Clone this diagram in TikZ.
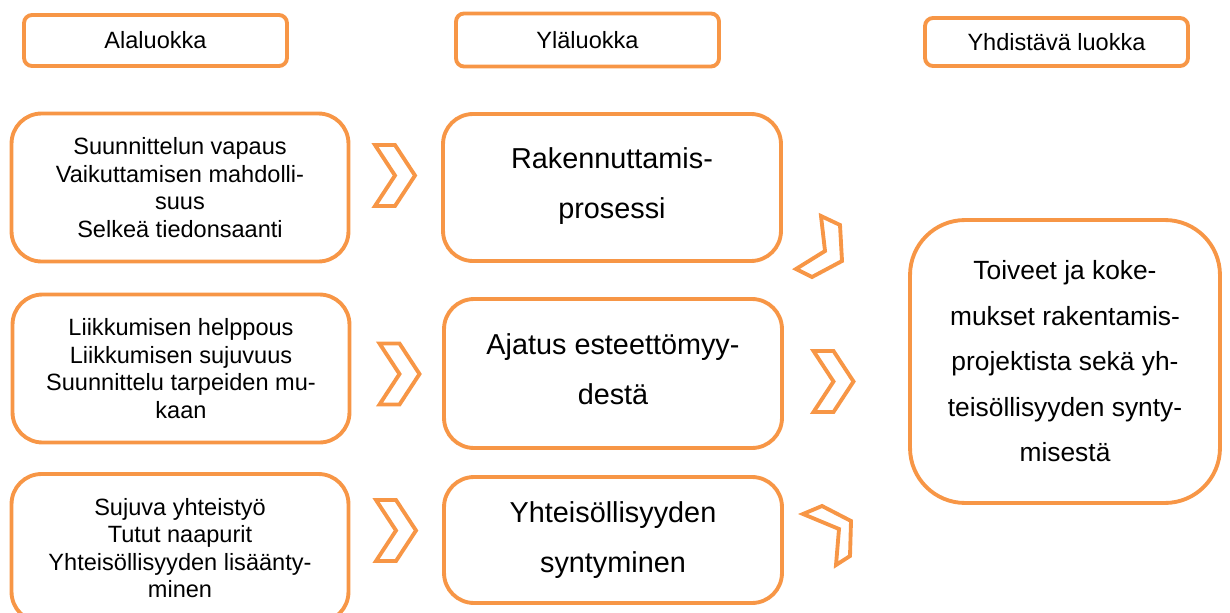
\documentclass[tikz,border=0pt]{standalone}
\usepackage{fontspec}
\setmainfont{Liberation Sans}
\definecolor{ora}{HTML}{F79646}

\begin{document}
\begin{tikzpicture}[x=0.02cm, y=-0.02cm,
        hdr/.style={draw=ora, line width=2.2pt, rounded corners=0.16cm,
            minimum width=5.26cm, minimum height=1.02cm, inner sep=0pt,
            font=\fontsize{13.4}{15.3}\selectfont},
        lbox/.style={draw=ora, line width=2.2pt, rounded corners=0.6cm,
            minimum width=6.74cm, minimum height=2.96cm, inner sep=0pt, align=center,
            font=\fontsize{13.4}{15.6}\selectfont},
        mbox/.style={draw=ora, line width=2.2pt, rounded corners=0.6cm,
            minimum width=6.76cm, inner sep=0pt, align=center,
            font=\fontsize{16.4}{28.4}\selectfont},
        chev/.style={draw=ora, line width=2.2pt, line join=miter}]
    \useasboundingbox (0,0) rectangle (1230,612);

    % otsikot
    \node[hdr] (ala) at (155.5,40.5) {Alaluokka};
    \node[hdr, minimum height=1.06cm] (yla) at (587.5,40) {Yläluokka};
    \node[hdr, minimum height=0.96cm] (yhd) at (1056.5,42) {Yhdistävä luokka};

    % alaluokat
    \node[lbox] (ala1) at (180,187.5) {Suunnittelun vapaus\\Vaikuttamisen mahdolli-\\suus\\Selkeä tiedonsaanti};
    \node[lbox] (ala2) at (181,368.5) {Liikkumisen helppous\\Liikkumisen sujuvuus\\Suunnittelu tarpeiden mu-\\kaan};
    \node[lbox] (ala3) at (180,548) {Sujuva yhteistyö\\Tutut naapurit\\Yhteisöllisyyden lisäänty-\\minen};

    % yläluokat
    \node[mbox, minimum height=2.94cm] (yla1) at (612,187.5) {Rakennuttamis-\\prosessi\rule[-5pt]{0pt}{1pt}};
    \node[mbox, minimum height=2.98cm] (yla2) at (613,373.5) {Ajatus esteettömyy-\\destä\rule[-5pt]{0pt}{1pt}};
    \node[mbox, minimum height=2.52cm] (yla3) at (613,540) {Yhteisöllisyyden\\syntyminen};

    % yhdistävä luokka
    \node[draw=ora, line width=2.2pt, rounded corners=1.1cm, minimum width=6.2cm,
        minimum height=5.66cm, inner sep=0pt, align=center,
        font=\fontsize{15}{25.9}\selectfont] (yhd1) at (1065,361.5)
        {Toiveet ja koke-\\mukset rakentamis-\\projektista sekä yh-\\teisöllisyyden synty-\\misestä};

    % nuolet
    \foreach \cx/\cy in {395/175.5, 399.5/374, 396/530.5, 833.5/381.5}
        \draw[chev] (\cx-20,\cy-30.5) -- (\cx,\cy-30.5) -- (\cx+20,\cy)
            -- (\cx,\cy+30.5) -- (\cx-20,\cy+30.5) -- (\cx,\cy) -- cycle;
    \draw[chev] (821,216) -- (840,225) -- (842,261) -- (812,277) -- (796,269) -- (825,251) -- cycle;
    \draw[chev] (803,514) -- (822,506) -- (851,521) -- (850,556) -- (836,565) -- (839,529) -- cycle;
\end{tikzpicture}
\end{document}
